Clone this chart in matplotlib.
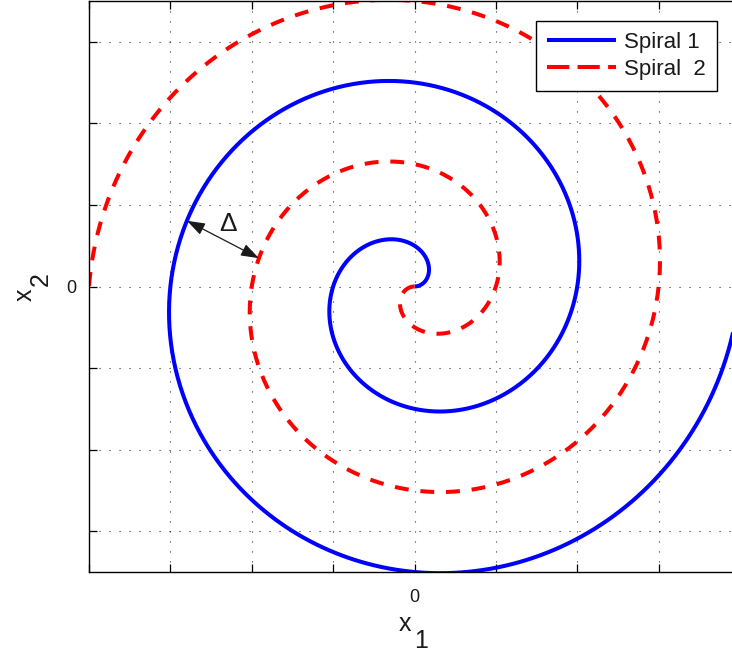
import numpy as np
import matplotlib.pyplot as plt
from matplotlib.lines import Line2D

plt.rcParams['font.family'] = ['Liberation Sans', 'DejaVu Sans']
plt.rcParams['lines.scale_dashes'] = False

# spiral settings (axis units)
pitch = 2.0          # radial growth per full turn
turns = 2.0          # number of turns drawn
blue_angle = 2.861   # where the gap arrow touches spiral 1 (rad)
red_angle = 2.962    # where the gap arrow touches spiral 2 (rad)
labels = ['Spiral 1', 'Spiral  2']
x_ticks = [-4, -3, -2, -1, 0, 1, 2, 3, 4]
y_ticks = [-3, -2, -1, 0, 1, 2, 3]
x_limits = [-4, 4]
y_limits = [-3.5, 3.5]

blue = (0, 0, 1)
red = (1, 0, 0)
ink = '#1a1a1a'

theta = np.linspace(0, turns * 2 * np.pi, 1500)
r = pitch * theta / (2 * np.pi)
x1, y1 = r * np.cos(theta), r * np.sin(theta)
# second spiral is the first one turned by half a turn
x2, y2 = -x1, -y1

fig = plt.figure(figsize=(7.32, 6.54), dpi=100)
W, H = 732.0, 654.0
ax = fig.add_axes([89 / W, (H - 572) / H, (740 - 89) / W, 571 / H])

ax.plot(x1, y1, color=blue, lw=2.9, solid_capstyle='butt')
ax.plot(x2, y2, color=red, lw=2.9, dashes=(10, 8.5), dash_capstyle='butt')

# gap marker between the two spirals
rb = pitch * (blue_angle + 2 * np.pi) / (2 * np.pi)
rr = pitch * (red_angle + np.pi) / (2 * np.pi)
pb = (rb * np.cos(blue_angle), rb * np.sin(blue_angle))
pr = (rr * np.cos(red_angle), rr * np.sin(red_angle))
ax.annotate('', xy=pb, xytext=pr,
            arrowprops=dict(arrowstyle='<|-|>,head_length=1.1,head_width=0.38',
                            color=ink, lw=0.9, shrinkA=0, shrinkB=0))
ax.text((pb[0] + pr[0]) / 2 + 0.06, (pb[1] + pr[1]) / 2 + 0.04, 'Δ',
        fontsize=19, ha='center', va='bottom', color=ink)

ax.set_xlim(x_limits)
ax.set_ylim(y_limits)
ax.set_xticks(x_ticks)
ax.set_yticks(y_ticks)
ax.set_xticklabels(['0' if t == 0 else '' for t in x_ticks])
ax.set_yticklabels(['0' if t == 0 else '' for t in y_ticks])
ax.tick_params(direction='in', length=6, width=0.9, top=True, right=True,
               labelsize=13, colors='black', labelcolor=ink)
ax.tick_params(axis='x', pad=12)
ax.tick_params(axis='y', pad=9)
ax.grid(True, color='0.2', lw=0.8, linestyle=(0, (0.8, 6.4)))
for s in ax.spines.values():
    s.set_linewidth(1.0)
    s.set_color('black')

# axis labels with full size subscripts
fig.text(405 / W, 1 - 631 / H, 'x', fontsize=18, ha='center', va='baseline', color=ink)
fig.text(414 / W, 1 - 648 / H, '1', fontsize=18, ha='left', va='baseline', color=ink)
fig.text(32 / W, 1 - 295 / H, 'x', fontsize=18, ha='center', va='baseline',
         rotation=90, rotation_mode='anchor', color=ink)
fig.text(48 / W, 1 - 286 / H, '2', fontsize=18, ha='left', va='baseline',
         rotation=90, rotation_mode='anchor', color=ink)

handles = [Line2D([], [], color=blue, lw=2.9, solid_capstyle='butt'),
           Line2D([], [], color=red, lw=2.9, dashes=(16, 6), dash_capstyle='butt')]
leg = ax.legend(handles, labels, loc='upper right', bbox_to_anchor=(717 / W, 1 - 21 / H),
                bbox_transform=fig.transFigure, borderaxespad=0,
                fontsize=16, handlelength=3.1, handletextpad=0.35,
                borderpad=0.5, labelspacing=0.25, fancybox=False,
                framealpha=1, edgecolor='black')
leg.get_frame().set_linewidth(1.0)
for t in leg.get_texts():
    t.set_color(ink)

fig.savefig('out.png', dpi=100)
